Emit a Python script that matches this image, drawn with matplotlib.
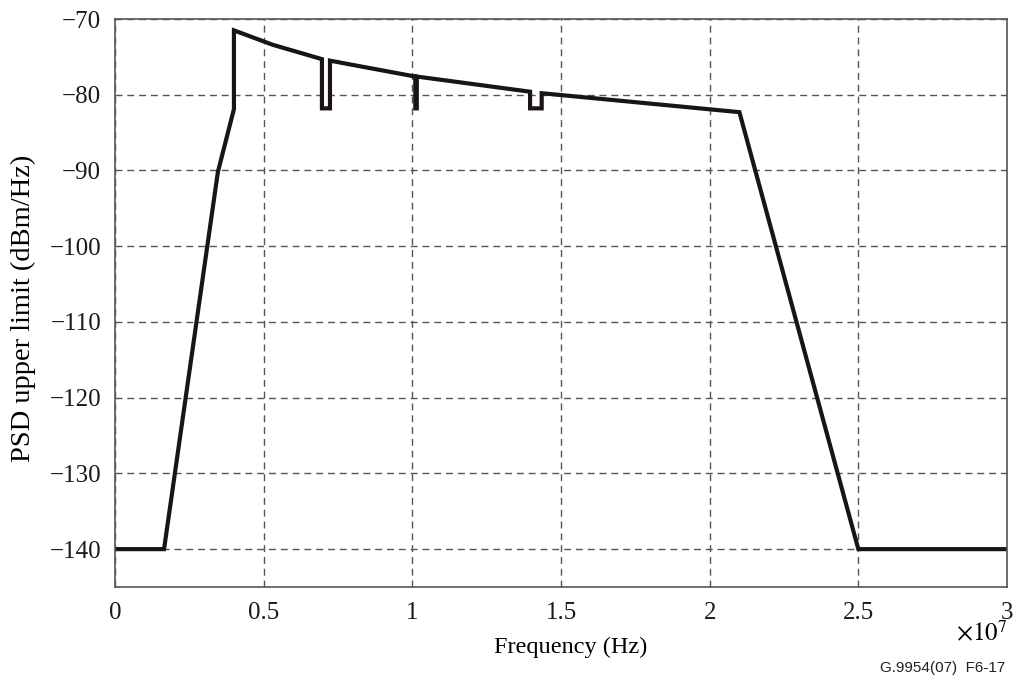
import matplotlib
matplotlib.use("Agg")
import matplotlib.pyplot as plt
from matplotlib.ticker import FuncFormatter

# Data (frequency in Hz, PSD in dBm/Hz)
freq_hz = [0, 1.65e6, 3.46e6, 4.0e6, 4.0e6, 5.3e6, 6.96e6, 6.96e6, 7.23e6, 7.23e6,
           10.1e6, 10.1e6, 10.15e6, 10.15e6, 13.96e6, 13.96e6, 14.35e6, 14.35e6,
           21.0e6, 25.0e6, 30.0e6]
psd_dbm = [-140, -140, -90.2, -81.9, -71.5, -73.4, -75.3, -81.8, -81.8, -75.5,
           -77.6, -81.8, -81.8, -77.6, -79.6, -81.8, -81.8, -79.8,
           -82.3, -140, -140]

x_ticks = [0, 0.5e7, 1.0e7, 1.5e7, 2.0e7, 2.5e7, 3.0e7]
y_ticks = [-140, -130, -120, -110, -100, -90, -80, -70]

plt.rcParams['font.family'] = ['Liberation Serif', 'DejaVu Serif']
plt.rcParams['mathtext.fontset'] = 'stix'

fig = plt.figure(figsize=(10.13, 6.88), dpi=100)
ax = fig.add_axes([115/1013, 1 - 587/688, 892/1013, (587-19)/688])

ax.plot(freq_hz, psd_dbm, color='#1a1414', lw=3.0, solid_joinstyle='miter')

ax.set_xlim(0, 3e7)
ax.set_ylim(-145, -70)
ax.set_xticks(x_ticks)
ax.set_yticks(y_ticks)

def xfmt(v, pos):
    return f"{v/1e7:g}"
def yfmt(v, pos):
    return f"{int(v)}".replace('-', '\u2212')
ax.xaxis.set_major_formatter(FuncFormatter(xfmt))
ax.yaxis.set_major_formatter(FuncFormatter(yfmt))

ax.tick_params(axis='both', length=0, labelsize=18, colors='#1a1a1a')
ax.tick_params(axis='y', pad=10)
ax.tick_params(axis='x', pad=11)
ax.grid(True, color='#555555', linestyle=(0, (5, 3.5)), linewidth=1.0)
for sp in ax.spines.values():
    sp.set_color('#555555')
    sp.set_linewidth(1.2)

ax.set_xlabel('Frequency (Hz)', fontsize=17.5)
ax.xaxis.set_label_coords((571 - 115) / 892, -(640 - 587) / 568, transform=None) if False else None
ax.xaxis.label.set_verticalalignment('top')
ax.xaxis.set_label_coords((571 - 115) / 892, -(637 - 587) / 568)
ax.set_ylabel('PSD upper limit (dBm/Hz)', fontsize=20.5)
ax.yaxis.set_label_coords((36 - 115) / 892, (587 - 308) / 568)

fig.text(1007/1013, 1 - 634/688, r'$\times10^{7}$', fontsize=18, ha='right', va='center')
fig.text(1005/1013, 1 - 668/688, 'G.9954(07)  F6-17', fontsize=11,
         family='Liberation Sans', ha='right', va='center', color='#222222')

fig.savefig('out.png', dpi=100)
